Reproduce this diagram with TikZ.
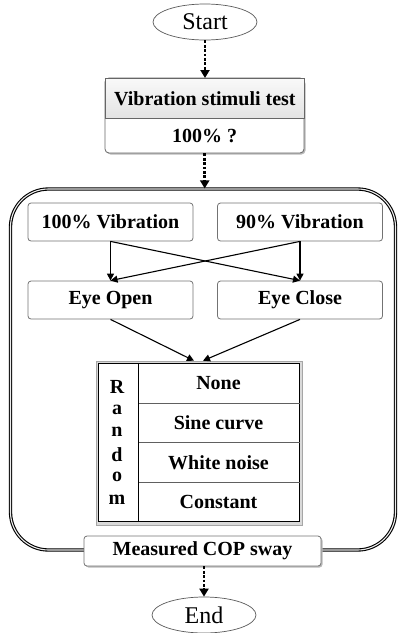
\documentclass[tikz,border=0pt]{standalone}
\usepackage{fontspec}
\setmainfont{Liberation Serif}
\usetikzlibrary{arrows.meta,shapes.geometric,calc}
\begin{document}
\begin{tikzpicture}[x=1pt,y=-1pt,
  box/.style={draw=gray!90!black, rounded corners=3pt, line width=0.8pt, fill=white, minimum width=165pt, minimum height=38pt, inner sep=0pt, font=\fontsize{20}{24}\selectfont\bfseries},
  term/.style={ellipse, draw=gray!70!black, line width=0.7pt, fill=white, minimum width=104pt, minimum height=36pt, inner sep=0pt, font=\fontsize{24}{28}\selectfont},
  dotarrow/.style={line width=2.6pt, dash pattern=on 2.8pt off 1.6pt, -{Triangle[length=8pt,width=9pt]}},
  arr/.style={line width=1.1pt, -{Triangle[length=7pt,width=7pt]}},
  txt/.style={inner sep=0pt, font=\fontsize{20}{24}\selectfont\bfseries},
  shadowfill/.style={fill=gray!55},
]
\useasboundingbox (0,0) rectangle (398,633);

% start
\node[term] (start) at (205,22) {Start};

% vibration stimuli test box
\fill[shadowfill, rounded corners=4pt] (106.5,79.5) rectangle (305.5,154.5);
\draw[draw=gray!80!black, fill=white, rounded corners=4pt, line width=0.8pt] (105,78) rectangle (304,153);
\node[txt, draw=gray!80!black, line width=0.8pt, top color=gray!5, bottom color=gray!22, minimum width=199pt, minimum height=40pt, anchor=north west] (vst) at (105,78) {Vibration stimuli test};
\node[txt, minimum width=199pt, minimum height=35pt, anchor=north west] (q) at (105,118) {100\% ?};

% big frame
\node[draw=black, double=gray!15, double distance=1.1pt, line width=1.1pt, rounded corners=38pt, minimum width=385pt, minimum height=361pt, inner sep=0pt] (frame) at (203,369.5) {};

% vibration and eye boxes
\node[box] (v100) at (110.5,222) {100\% Vibration};
\node[box] (v90) at (300,222) {90\% Vibration};
\node[box] (eo) at (110.5,300) {Eye Open};
\node[box] (ec) at (300,300) {Eye Close};

% table
\node[draw=gray!70, fill=gray!30, line width=0.6pt, minimum width=206pt, minimum height=164pt, inner sep=0pt] (tbl) at (199,443) {};
\draw[line width=0.9pt, fill=white] (98.5,363.5) rectangle (299.5,521.5);
\draw[gray!75!black, line width=0.7pt] (138,403) -- (299.5,403) (138,442.5) -- (299.5,442.5) (138,482) -- (299.5,482);
\draw[line width=0.9pt] (138,363.5) -- (138,521.5);
\node[txt] (r1) at (218.5,383.5) {None};
\node[txt] (r2) at (218.5,423) {Sine curve};
\node[txt] (r3) at (218.5,462.5) {White noise};
\node[txt] (r4) at (218.5,501.5) {Constant};
\node[txt] (l1) at (117,387) {R};
\node[txt] (l2) at (117,410) {a};
\node[txt] (l3) at (117,432) {n};
\node[txt] (l4) at (117,454.5) {d};
\node[txt] (l5) at (117,477) {o};
\node[txt] (l6) at (117,500) {m};

% measured COP
\fill[shadowfill, rounded corners=3pt] (85.5,537.5) rectangle (322.5,567.5);
\node[box, minimum width=237pt, minimum height=30pt] (cop) at (202.5,551) {Measured COP sway};

% end
\node[term] (end) at (204,615) {End};

% dotted arrows
\draw[dotarrow] (start.south) -- (start.south |- vst.north);
\draw[dotarrow] (q.south) -- (q.south |- frame.north);
\draw[dotarrow] (end.north |- cop.south) -- (end.north);

% solid arrows
\draw[arr] (v100.south) -- (eo.north);
\draw[arr] (v100.south) -- (ec.north);
\draw[arr] (v90.south) -- (eo.north);
\draw[arr] (v90.south) -- (ec.north);
\draw[arr] (eo.south) -- ([xshift=-5pt]tbl.north);
\draw[arr] (ec.south) -- ([xshift=4pt]tbl.north);
\end{tikzpicture}
\end{document}
